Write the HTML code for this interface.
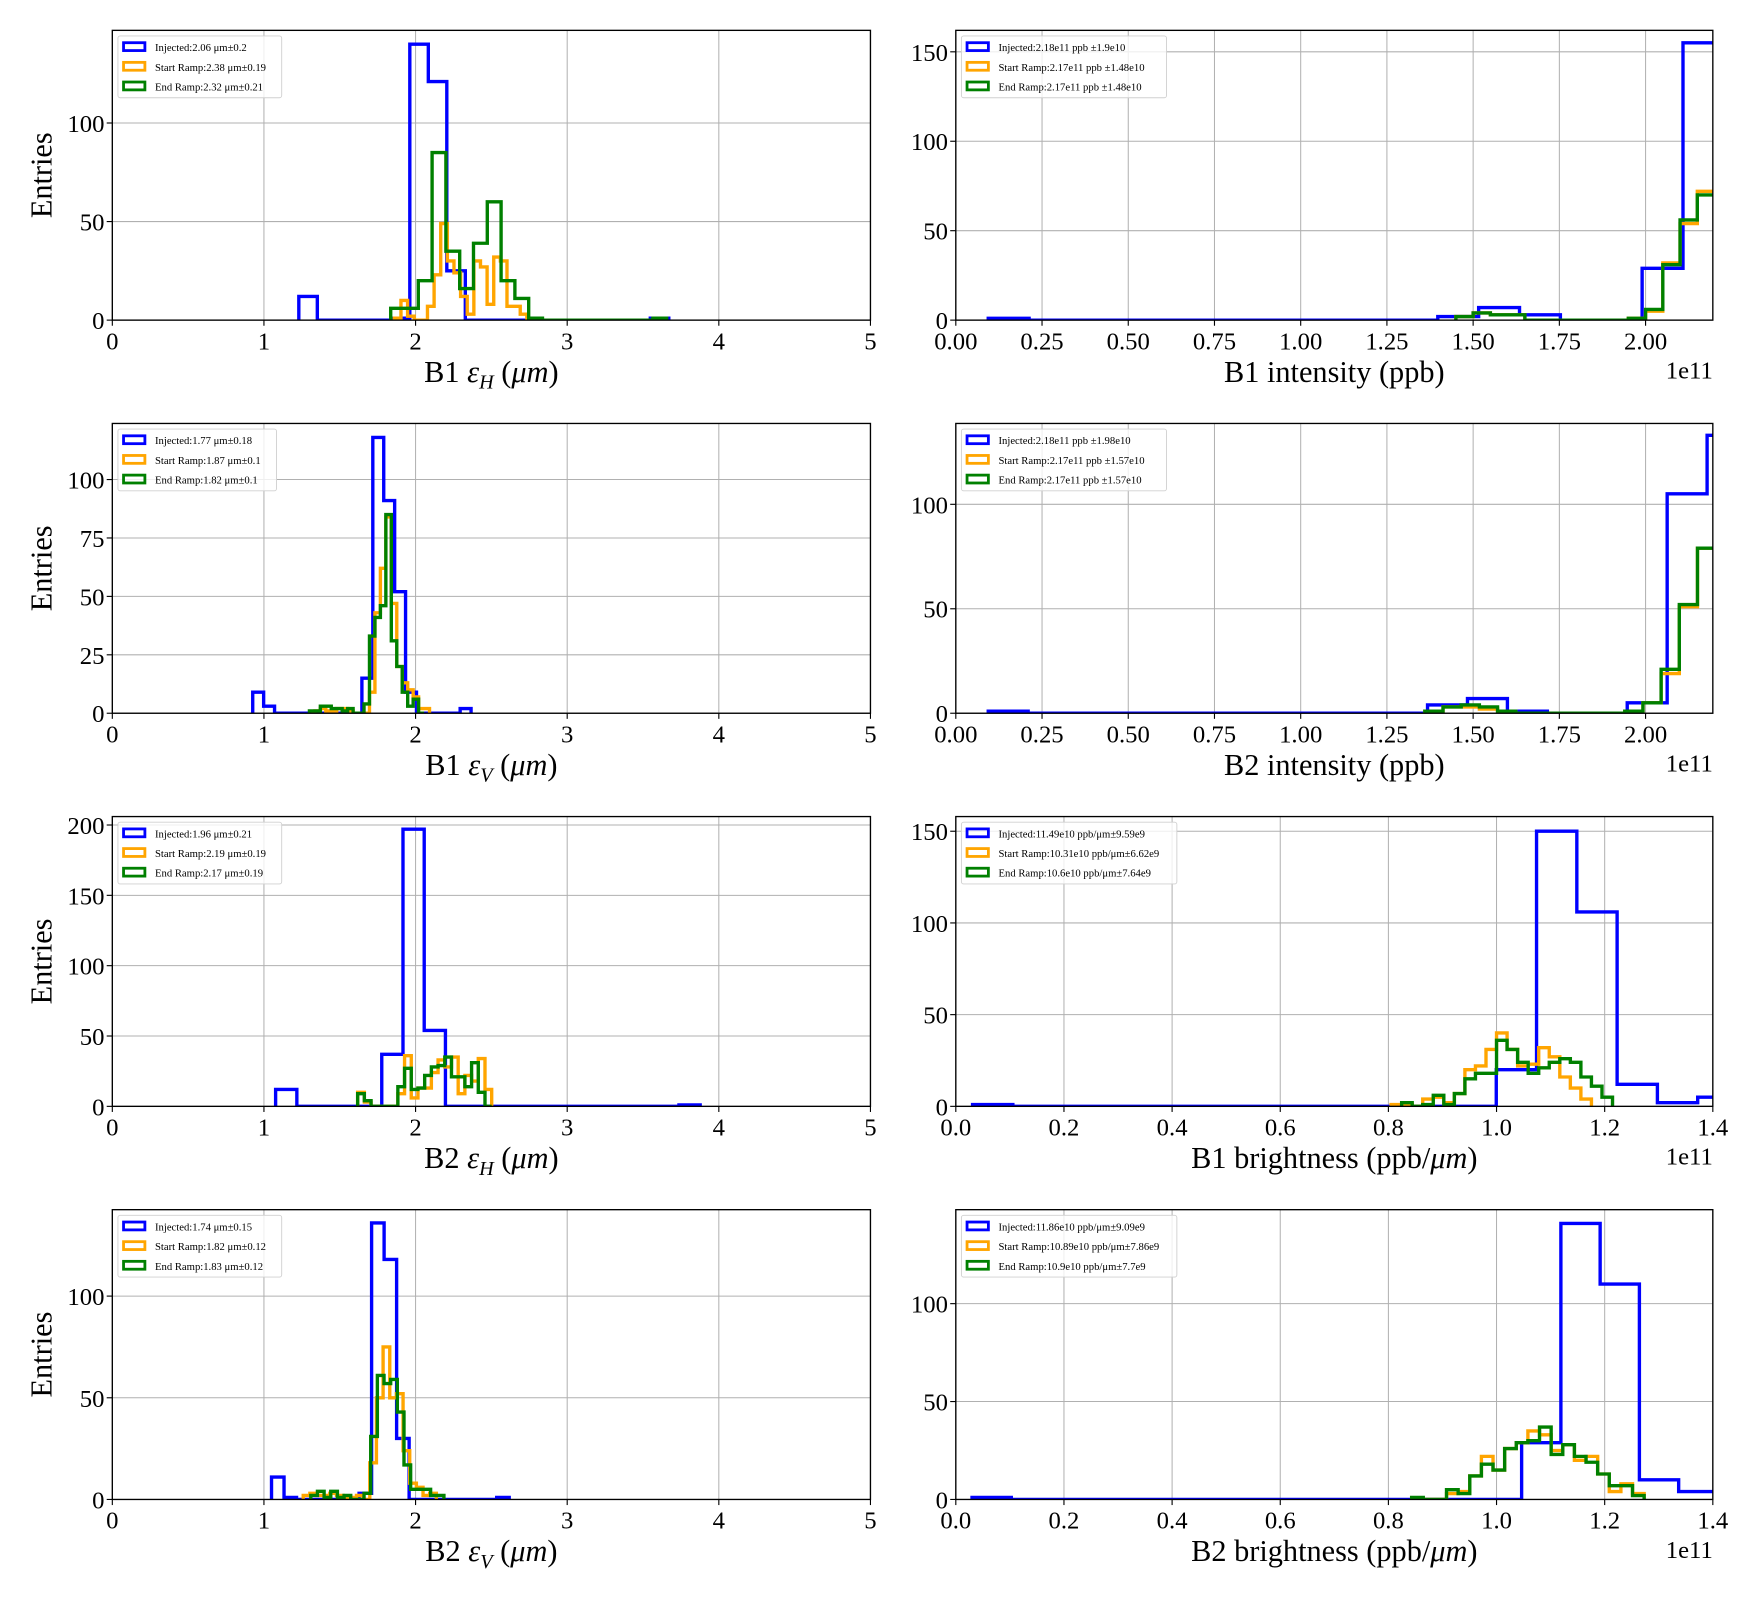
<!DOCTYPE html>
<html><head><meta charset="utf-8">
<style>
html,body{margin:0;padding:0;background:#fff;}
svg{display:block;}
text{font-family:"Liberation Serif","DejaVu Serif",serif;fill:#000;}
</style></head>
<body>
<svg id="fig" width="1760" height="1600" viewBox="0 0 1567 1424.5" xmlns="http://www.w3.org/2000/svg"></svg>
<script>
// ---------- data (bin start, bin width, counts per series) ----------
// Panel 1: B1 eps_H
const p1BlueStart = 1.23, p1BlueWidth = 0.122;
const p1Blue = [12,0,0,0,0,1,140,121,25,0,0,0,0,0,0,0,0,0,0,1];
const p1OrangeStart = 1.86, p1OrangeWidth = 0.0437;
const p1Orange = [1,10,2,0,0,7,23,49,30,24,12,3,30,27,8,32,30,7,7,3];
const p1GreenStart = 1.836, p1GreenWidth = 0.091;
const p1Green = [6,6,20,85,35,16,39,60,20,11,1,0,0,0,0,0,0,0,0,1];
// Panel 2: B1 eps_V
const p2BlueStart = 0.926, p2BlueWidth = 0.072;
const p2Blue = [9,3,0,0,0,0,0,0,0,0,15,118,91,52,9,0,0,0,0,2];
const p2OrangeStart = 1.30, p2OrangeWidth = 0.036;
const p2Orange = [0,1,2,1,1,2,2,1,0,0,0,9,43,62,84,47,20,13,10,7,2,2];
const p2GreenStart = 1.30, p2GreenWidth = 0.036;
const p2Green = [1,1,3,3,2,2,1,2,0,0,4,33,41,46,85,31,20,9,3,6,0];
// Panel 3: B2 eps_H
const p3BlueStart = 1.077, p3BlueWidth = 0.14;
const p3Blue = [12,0,0,0,0,37,197,54,0,0,0,0,0,0,0,0,0,0,0,1];
const p3OrangeStart = 1.618, p3OrangeWidth = 0.0442;
const p3Orange = [10,3,0,0,0,0,9,36,6,13,13,24,33,28,35,9,22,18,34,12];
const p3GreenStart = 1.618, p3GreenWidth = 0.0442;
const p3Green = [9,4,0,0,0,0,14,27,12,13,22,28,29,35,21,21,14,31,10,0];
// Panel 4: B2 eps_V
const p4BlueStart = 1.05, p4BlueWidth = 0.0825;
const p4Blue = [11,1,0,0,0,0,0,3,136,118,30,0,0,0,0,0,0,0,1];
const p4OrangeStart = 1.259, p4OrangeWidth = 0.0439;
const p4Orange = [2,3,2,2,3,2,1,1,2,0,18,50,75,50,52,24,8,6,2,3];
const p4GreenStart = 1.309, p4GreenWidth = 0.0439;
const p4Green = [2,4,1,4,1,2,0,0,3,31,61,57,59,43,17,5,5,5,2,2];
// Panel 5: B1 intensity (x in 1e11)
const p5BlueStart = 0.094, p5BlueWidth = 0.1185;
const p5Blue = [1,0,0,0,0,0,0,0,0,0,0,2,7,3,0,0,29,155];
const p5OrangeStart = 1.45, p5OrangeWidth = 0.05;
const p5Orange = [2,4,3,3,0,0,0,0,0,0,1,5,32,54,72];
const p5GreenStart = 1.45, p5GreenWidth = 0.05;
const p5Green = [2,4,3,3,0,0,0,0,0,0,1,6,31,56,70];
// Panel 6: B2 intensity
const p6BlueStart = 0.094, p6BlueWidth = 0.1158;
const p6Blue = [1,0,0,0,0,0,0,0,0,0,0,4,7,1,0,0,5,105,133];
const p6OrangeStart = 1.36, p6OrangeWidth = 0.0527;
const p6Orange = [1,3,3,2,1,0,0,0,0,0,0,1,5,19,51,79,56];
const p6GreenStart = 1.36, p6GreenWidth = 0.0527;
const p6Green = [1,3,4,3,1,0,0,0,0,0,0,1,5,21,52,79,56];
// Panel 7: B1 brightness
const p7BlueStart = 0.031, p7BlueWidth = 0.0745;
const p7Blue = [1,0,0,0,0,0,0,0,0,0,0,0,0,20,150,106,12,2,5];
const p7OrangeStart = 0.805, p7OrangeWidth = 0.0195;
const p7Orange = [1,1,0,4,5,2,7,20,22,31,40,31,22,23,32,27,16,10,4];
const p7GreenStart = 0.8245, p7GreenWidth = 0.0195;
const p7Green = [2,0,1,6,1,7,15,18,18,36,31,24,18,21,24,26,24,16,11,5];
// Panel 8: B2 brightness
const p8BlueStart = 0.03, p8BlueWidth = 0.0726;
const p8Blue = [1,0,0,0,0,0,0,0,0,0,0,0,0,0,29,141,110,10,4,4];
const p8OrangeStart = 0.843, p8OrangeWidth = 0.0215;
const p8Orange = [0,0,0,3,4,12,22,15,26,29,35,33,25,28,20,22,13,4,8,3];
const p8GreenStart = 0.843, p8GreenWidth = 0.0215;
const p8Green = [1,0,0,5,3,12,18,15,26,29,30,37,23,28,22,19,13,7,7,2];

// tick labels
const epsXTicks = ["0","1","2","3","4","5"];
const intXTicks = ["0.00","0.25","0.50","0.75","1.00","1.25","1.50","1.75","2.00"];
const brXTicks = ["0.0","0.2","0.4","0.6","0.8","1.0","1.2","1.4"];
const yTicks1 = [0,50,100];
const yTicks2 = [0,25,50,75,100];
const yTicks3 = [0,50,100,150,200];
const yTicks4 = [0,50,100];
const yTicks5 = [0,50,100,150];
const yTicks6 = [0,50,100];
const yTicks7 = [0,50,100,150];
const yTicks8 = [0,50,100];

const legend1 = ["Injected:2.06 μm±0.2","Start Ramp:2.38 μm±0.19","End Ramp:2.32 μm±0.21"];
const legend2 = ["Injected:1.77 μm±0.18","Start Ramp:1.87 μm±0.1","End Ramp:1.82 μm±0.1"];
const legend3 = ["Injected:1.96 μm±0.21","Start Ramp:2.19 μm±0.19","End Ramp:2.17 μm±0.19"];
const legend4 = ["Injected:1.74 μm±0.15","Start Ramp:1.82 μm±0.12","End Ramp:1.83 μm±0.12"];
const legend5 = ["Injected:2.18e11 ppb ±1.9e10","Start Ramp:2.17e11 ppb ±1.48e10","End Ramp:2.17e11 ppb ±1.48e10"];
const legend6 = ["Injected:2.18e11 ppb ±1.98e10","Start Ramp:2.17e11 ppb ±1.57e10","End Ramp:2.17e11 ppb ±1.57e10"];
const legend7 = ["Injected:11.49e10 ppb/μm±9.59e9","Start Ramp:10.31e10 ppb/μm±6.62e9","End Ramp:10.6e10 ppb/μm±7.64e9"];
const legend8 = ["Injected:11.86e10 ppb/μm±9.09e9","Start Ramp:10.89e10 ppb/μm±7.86e9","End Ramp:10.9e10 ppb/μm±7.7e9"];

const NS = "http://www.w3.org/2000/svg";
const fig = document.getElementById('fig');
function mk(tag, attrs, parent){
  const e = document.createElementNS(NS, tag);
  for (const k in attrs) e.setAttribute(k, attrs[k]);
  (parent||fig).appendChild(e);
  return e;
}

const colors = ["#0000ff","#ffa500","#008000"];
const seriesNames = ["injected","start-ramp","end-ramp"];

function panel(id, box, xmin, xmax, xTickVals, xTickLabels, ymax, yTicks, hists, legend, xlabelHTML, showEntries, sci){
  const g = mk('g', {});
  
  
  const L = box[0], T = box[1], R = box[2], B = box[3];
  const sx = v => L + (v - xmin) / (xmax - xmin) * (R - L);
  const sy = v => B - v / ymax * (B - T);
  const clipId = 'clip-' + id;
  const cp = mk('clipPath', {id: clipId}, g);
  mk('rect', {x: L, y: T, width: R - L, height: B - T}, cp);
  // grid
  xTickVals.forEach((v, i) => {
    const x = sx(v);
    const gl = mk('line', {x1:x, x2:x, y1:T, y2:B, stroke:'#b0b0b0', 'stroke-width':0.9}, g);
    
    
  });
  yTicks.forEach(v => {
    const y = sy(v);
    const gl = mk('line', {x1:L, x2:R, y1:y, y2:y, stroke:'#b0b0b0', 'stroke-width':0.9}, g);
    
    
  });
  // histograms
  const hg = mk('g', {'clip-path': 'url(#' + clipId + ')'}, g);
  hists.forEach((h, si) => {
    const start = h[0], w = h[1], counts = h[2];
    let d = 'M' + sx(start) + ',' + sy(0);
    counts.forEach((c, i) => {
      const x0 = sx(start + i * w), x1 = sx(start + (i + 1) * w), y = sy(c);
      d += ' L' + x0 + ',' + y + ' L' + x1 + ',' + y;
    });
    d += ' L' + sx(start + counts.length * w) + ',' + sy(0);
    const p = mk('path', {d: d, fill: 'none', stroke: colors[si], 'stroke-width': 3, 'stroke-linejoin': 'miter'}, hg);
    
    
  });
  // frame
  const fr = mk('rect', {x:L, y:T, width:R-L, height:B-T, fill:'none', stroke:'#000', 'stroke-width':1.2}, g);
  
  
  // x ticks
  xTickVals.forEach((v, i) => {
    const x = sx(v);
    mk('line', {x1:x, x2:x, y1:B, y2:B+5, stroke:'#000', 'stroke-width':1}, g);
    const t = mk('text', {x:x, y:B+26, 'font-size':22, 'text-anchor':'middle'}, g);
    t.textContent = xTickLabels[i];
    
    
  });
  yTicks.forEach(v => {
    const y = sy(v);
    mk('line', {x1:L-5, x2:L, y1:y, y2:y, stroke:'#000', 'stroke-width':1}, g);
    const t = mk('text', {x:L-7, y:y+8, 'font-size':22, 'text-anchor':'end'}, g);
    t.textContent = v;
    
    
  });
  // x label
  const xl = mk('text', {x:(L+R)/2, y:B+55, 'font-size':27, 'text-anchor':'middle'}, g);
  xl.innerHTML = xlabelHTML;
  
  
  if (showEntries){
    const yl = mk('text', {x:0, y:0, 'font-size':27, 'text-anchor':'middle', transform:'translate(46,' + ((T+B)/2) + ') rotate(-90)'}, g);
    yl.textContent = 'Entries';
    
    
  }
  if (sci){
    const st = mk('text', {x:R, y:B+52, 'font-size':22, 'text-anchor':'end'}, g);
    st.textContent = '1e11';
    
    
  }
  // legend
  const lg = mk('g', {}, g);
  
  
  const maxLen = Math.max(...legend.map(s => s.length));
  const lw = 40 + maxLen * 4.6;
  mk('rect', {x:L+5, y:T+5, width:lw, height:55, rx:2, fill:'#fff', 'fill-opacity':0.8, stroke:'#d0d0d0', 'stroke-width':0.8}, lg);
  legend.forEach((s, i) => {
    const y = T + 15 + i * 17.5;
    const sw = mk('rect', {x:L+10, y:y-4, width:19, height:7, fill:'none', stroke:colors[i], 'stroke-width':2.5}, lg);
    
    
    const t = mk('text', {x:L+38, y:y+3.5, 'font-size':9.5}, lg);
    t.textContent = s;
    
    
  });
}

const epsVals = [0,1,2,3,4,5];
const intVals = [0,0.25,0.5,0.75,1,1.25,1.5,1.75,2];
const brVals = [0,0.2,0.4,0.6,0.8,1.0,1.2,1.4];
const leftBox = r => [100, [27,377,727,1077][r], 775, [285,635,985,1335][r]];
const rightBox = r => [851, [27,377,727,1077][r], 1525, [285,635,985,1335][r]];
const epsH = n => 'B' + n + ' <tspan font-style="italic">ε</tspan><tspan font-style="italic" font-size="18" dy="6">H</tspan><tspan dy="-6"> (</tspan><tspan font-style="italic">μm</tspan>)';
const epsV = n => 'B' + n + ' <tspan font-style="italic">ε</tspan><tspan font-style="italic" font-size="18" dy="6">V</tspan><tspan dy="-6"> (</tspan><tspan font-style="italic">μm</tspan>)';

panel('b1-eps-h', leftBox(0), 0, 5, epsVals, epsXTicks, 147, yTicks1,
  [[p1BlueStart,p1BlueWidth,p1Blue],[p1OrangeStart,p1OrangeWidth,p1Orange],[p1GreenStart,p1GreenWidth,p1Green]],
  legend1, epsH(1), true, false);
panel('b1-intensity', rightBox(0), 0, 2.195, intVals, intXTicks, 162, yTicks5,
  [[p5BlueStart,p5BlueWidth,p5Blue],[p5OrangeStart,p5OrangeWidth,p5Orange],[p5GreenStart,p5GreenWidth,p5Green]],
  legend5, 'B1 intensity (ppb)', false, true);
panel('b1-eps-v', leftBox(1), 0, 5, epsVals, epsXTicks, 124, yTicks2,
  [[p2BlueStart,p2BlueWidth,p2Blue],[p2OrangeStart,p2OrangeWidth,p2Orange],[p2GreenStart,p2GreenWidth,p2Green]],
  legend2, epsV(1), true, false);
panel('b2-intensity', rightBox(1), 0, 2.195, intVals, intXTicks, 138.7, yTicks6,
  [[p6BlueStart,p6BlueWidth,p6Blue],[p6OrangeStart,p6OrangeWidth,p6Orange],[p6GreenStart,p6GreenWidth,p6Green]],
  legend6, 'B2 intensity (ppb)', false, true);
panel('b2-eps-h', leftBox(2), 0, 5, epsVals, epsXTicks, 206, yTicks3,
  [[p3BlueStart,p3BlueWidth,p3Blue],[p3OrangeStart,p3OrangeWidth,p3Orange],[p3GreenStart,p3GreenWidth,p3Green]],
  legend3, epsH(2), true, false);
panel('b1-brightness', rightBox(2), 0, 1.4, brVals, brXTicks, 158, yTicks7,
  [[p7BlueStart,p7BlueWidth,p7Blue],[p7OrangeStart,p7OrangeWidth,p7Orange],[p7GreenStart,p7GreenWidth,p7Green]],
  legend7, 'B1 brightness (ppb/<tspan font-style="italic">μm</tspan>)', false, true);
panel('b2-eps-v', leftBox(3), 0, 5, epsVals, epsXTicks, 142.5, yTicks4,
  [[p4BlueStart,p4BlueWidth,p4Blue],[p4OrangeStart,p4OrangeWidth,p4Orange],[p4GreenStart,p4GreenWidth,p4Green]],
  legend4, epsV(2), true, false);
panel('b2-brightness', rightBox(3), 0, 1.4, brVals, brXTicks, 148, yTicks8,
  [[p8BlueStart,p8BlueWidth,p8Blue],[p8OrangeStart,p8OrangeWidth,p8Orange],[p8GreenStart,p8GreenWidth,p8Green]],
  legend8, 'B2 brightness (ppb/<tspan font-style="italic">μm</tspan>)', false, true);
</script>
</body></html>
